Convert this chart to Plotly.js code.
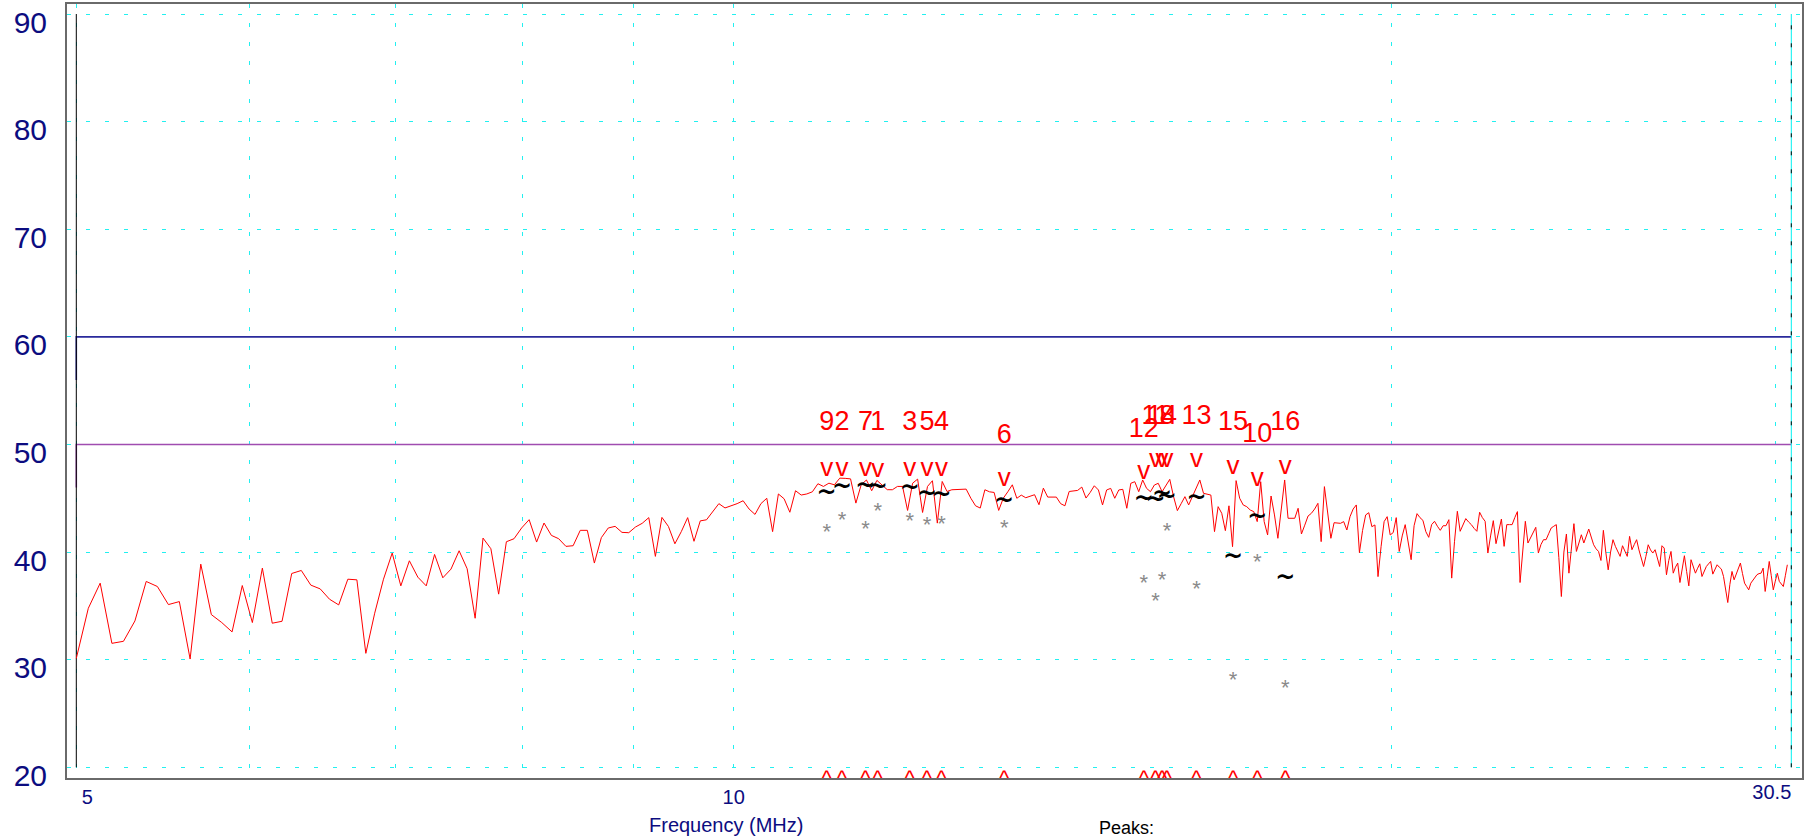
<!DOCTYPE html>
<html>
<head>
<meta charset="utf-8">
<script src="https://cdn.plot.ly/plotly-3.0.1.min.js"></script>
<style>
html,body{margin:0;padding:0;background:#fff;}
#chart{width:1807px;height:837px;}
</style>
</head>
<body>
<div id="chart"></div>
<script>
// ---- sweep (uniform frequency steps, MHz) ----
const fStart = 5.0;
const fStep = 0.06375;

const level = [
30.12,34.78,37.11,31.52,31.71,33.60,37.27,36.80,35.12,35.40,
30.06,38.88,34.19,33.45,32.58,36.89,33.45,38.51,33.39,33.57,
38.01,38.29,36.93,36.58,35.62,35.09,37.48,37.42,30.59,34.32,
37.48,39.91,36.86,39.19,37.67,36.86,39.78,37.61,38.42,40.12,
38.45,33.85,41.30,40.31,36.09,40.96,41.24,42.24,43.01,40.93,
42.70,41.55,41.24,40.53,40.59,42.02,42.02,38.98,41.34,42.24,
42.39,41.83,41.80,42.33,42.67,43.20,39.60,43.22,42.38,40.77,
41.90,43.20,41.00,42.90,43.00,43.80,44.50,44.10,44.30,44.50,
44.77,44.00,43.50,44.50,45.00,41.90,45.40,44.95,43.70,45.70,
45.30,45.40,45.60,46.35,46.10,46.40,46.25,46.87,46.85,46.80,
44.55,46.25,46.70,45.70,46.66,46.25,45.80,45.79,46.10,46.10,
43.87,46.40,46.78,43.68,46.10,46.63,42.69,46.56,45.63,45.79,
45.80,45.80,45.85,45.00,44.30,44.09,45.79,45.60,45.54,43.87,
45.00,45.60,46.25,45.00,45.29,45.05,45.20,45.33,44.40,45.94,
45.11,45.11,45.11,44.50,44.30,45.63,45.70,45.73,46.04,45.02,
45.54,46.16,45.77,44.38,45.77,45.92,45.00,45.77,45.83,44.07,
46.39,46.54,45.61,46.70,45.92,45.61,46.23,46.39,45.61,46.23,
46.76,45.15,43.85,44.50,45.15,44.38,45.15,46.00,46.70,45.46,
45.40,45.30,41.90,44.22,43.60,41.99,44.30,40.50,46.64,45.00,
44.38,44.22,43.91,43.76,42.83,46.54,42.83,41.59,45.21,43.45,
41.28,44.00,46.70,43.14,43.14,43.14,44.07,41.68,42.50,43.35,
43.60,44.00,44.53,40.97,46.08,43.50,41.28,42.73,42.70,42.67,
42.83,42.05,43.29,44.00,44.38,39.95,42.00,43.45,43.66,42.36,
42.52,37.72,40.50,42.83,43.29,41.59,41.81,43.20,40.06,41.50,
42.55,40.90,39.29,42.45,43.57,43.20,42.95,41.90,41.37,42.55,
42.86,42.40,42.02,42.45,42.45,43.01,37.58,41.00,43.79,41.93,
42.50,43.11,42.80,42.55,42.20,41.93,43.70,43.20,42.86,39.91,
41.50,42.92,40.78,42.00,43.07,40.53,42.55,42.55,42.55,43.20,
43.76,37.17,40.00,42.86,40.84,41.30,41.83,42.30,39.91,40.70,
41.15,41.15,41.70,42.24,42.40,42.55,39.50,35.87,40.00,41.68,
38.04,40.50,42.64,40.06,40.80,41.61,40.84,41.50,42.14,41.40,
40.68,40.30,40.06,39.22,42.02,40.00,38.35,40.00,41.15,40.53,
40.00,39.60,40.59,40.00,39.60,41.46,40.22,40.70,41.15,40.20,
39.44,38.66,39.60,40.68,40.20,39.91,40.22,39.30,38.66,40.59,
40.37,37.89,39.20,40.06,38.04,38.60,38.98,37.17,38.50,39.66,
38.20,36.86,39.29,38.60,38.04,38.50,38.91,37.73,38.20,38.66,
38.90,39.13,37.95,38.40,38.82,38.60,38.42,37.73,36.50,35.31,
37.00,38.20,37.42,37.90,38.50,38.98,38.00,37.11,36.80,36.49,
37.11,37.40,37.73,37.90,38.00,38.04,38.51,36.34,37.70,39.13,
37.80,36.49,37.30,38.04,37.27,37.00,36.80,37.80,38.82
];

// ---- limit lines (CISPR style, step at 5 MHz) ----
const limitFreq = [5, 5, 30.5];
const limitQP = [56, 60, 60];
const limitAV = [46, 50, 50];

// ---- sweep start / stop marker lines ----
const startStopFreq = [5, 30.5];
const markerSpan = [20, 90];

// ---- peaks ----
const peakNames = ['9','2','7','1','3','5','4','6','12','11','14','8','13','15','10','16'];
const peakFreq  = [11.03,11.21,11.49,11.64,12.04,12.26,12.45,13.30,15.41,15.60,15.71,15.79,16.29,16.93,17.37,17.89];
const peakLevel = [46.5,46.5,46.5,46.4,46.5,46.5,46.5,45.55,46.2,47.3,47.3,47.3,47.3,46.66,45.55,46.66];
const labelLevel= [52.0,52.0,52.0,52.0,52.0,52.0,52.0,50.8,51.35,52.55,52.55,52.55,52.55,52.0,50.9,52.0];
const qpLevel   = [45.37,45.93,46.02,45.93,45.84,45.33,45.21,44.63,44.87,44.75,45.28,45.03,44.96,39.48,43.14,37.47];
const avLevel   = [41.76,42.84,42.04,43.71,42.75,42.41,42.47,42.10,36.96,35.35,37.26,41.86,36.40,27.97,38.91,27.20];
const caretLevel = 19.8;

// ---- axis ticks ----
const yTicks = [20,30,40,50,60,70,80,90];
const xTickVals = [5, 10];
const xTickText = ['\u00a0\u00a0\u00a0\u00a05', '10'];
const xEndTickVals = [30.5];
const xEndTickText = ['30.5'];
const xGridVals = [6, 7, 8, 9, 20, 30];

const FONT = 'Liberation Sans, Arial, Helvetica, sans-serif';
const NAVY = '#0c0c80';
const GRID = '#22f0f0';
const XRANGE = [0.69471, 1.48920];

const freq = level.map((_, i) => fStart + i * fStep);

const traces = [
  { x: limitFreq, y: limitQP, mode: 'lines', line: {color: '#2a2a9c', width: 1.6}, hoverinfo: 'skip' },
  { x: limitFreq, y: limitAV, mode: 'lines', line: {color: '#a04cb0', width: 1.6}, hoverinfo: 'skip' },
  { x: [startStopFreq[0], startStopFreq[0]], y: markerSpan, mode: 'lines', line: {color: '#000000', width: 1}, hoverinfo: 'skip' },
  { x: [startStopFreq[1], startStopFreq[1]], y: markerSpan, mode: 'lines', line: {color: '#00f0f0', width: 1}, hoverinfo: 'skip', xaxis: 'x2' },
  { x: [startStopFreq[1], startStopFreq[1]], y: markerSpan, mode: 'lines', line: {color: '#000000', width: 1, dash: '4px,14px'}, hoverinfo: 'skip', xaxis: 'x2' },
  { x: freq, y: level, mode: 'lines', line: {color: '#ff0000', width: 1}, hoverinfo: 'skip' },
  { x: peakFreq, y: peakLevel, mode: 'text', text: peakFreq.map(() => 'v'), textposition: 'top center',
    textfont: {family: FONT, size: 26, color: '#ff0000'}, cliponaxis: false, hoverinfo: 'skip' },
  { x: peakFreq, y: labelLevel, mode: 'text', text: peakNames, textposition: 'middle center',
    textfont: {family: FONT, size: 27, color: '#ff0000'}, cliponaxis: false, hoverinfo: 'skip' },
  { x: peakFreq, y: qpLevel, mode: 'text', text: peakFreq.map(() => '~'), textposition: 'middle center',
    textfont: {family: 'DejaVu Sans, sans-serif', size: 24, color: '#000000', weight: 'bold'}, cliponaxis: false, hoverinfo: 'skip' },
  { x: peakFreq, y: avLevel, mode: 'text', text: peakFreq.map(() => '*'), textposition: 'middle center',
    textfont: {family: FONT, size: 22, color: '#8a8a8a'}, cliponaxis: false, hoverinfo: 'skip' },
  { x: peakFreq, y: peakFreq.map(() => caretLevel), mode: 'text', text: peakFreq.map(() => '^'), textposition: 'bottom center',
    textfont: {family: FONT, size: 23, color: '#ff0000'}, cliponaxis: false, hoverinfo: 'skip' }
];

const layout = {
  width: 1807, height: 837,
  margin: {l: 67, r: 5, t: 4, b: 59},
  paper_bgcolor: '#ffffff', plot_bgcolor: '#ffffff',
  showlegend: false,
  font: {family: FONT},
  xaxis: {
    type: 'log',
    range: XRANGE,
    tickmode: 'array', tickvals: xTickVals, ticktext: xTickText,
    tickfont: {family: FONT, size: 20, color: NAVY},
    ticks: '', ticklabelstandoff: 0,
    showgrid: true, gridcolor: GRID, gridwidth: 1, griddash: '4px,15px',
    minor: {tickmode: 'array', tickvals: xGridVals, showgrid: true, gridcolor: GRID, gridwidth: 1, griddash: '4px,15px', ticks: ''},
    zeroline: false,
    showline: true, linecolor: '#6a6a6a', linewidth: 2, mirror: true
  },
  xaxis2: {
    type: 'log',
    range: XRANGE,
    overlaying: 'x', anchor: 'y', side: 'bottom',
    tickmode: 'array', tickvals: xEndTickVals, ticktext: xEndTickText,
    ticklabelposition: 'outside left',
    tickfont: {family: FONT, size: 20, color: NAVY},
    ticks: '', ticklabelstandoff: 0,
    showgrid: false, zeroline: false, showline: false
  },
  yaxis: {
    range: [19.006, 90.929],
    tickmode: 'array', tickvals: yTicks, ticktext: yTicks.map(String),
    tickfont: {family: FONT, size: 30, color: NAVY},
    ticks: '', ticklabelstandoff: 12, ticklabelshift: 8, ticklabeloverflow: 'allow',
    showgrid: true, gridcolor: GRID, gridwidth: 1, griddash: '4px,15px',
    zeroline: false,
    showline: true, linecolor: '#6a6a6a', linewidth: 2, mirror: true
  },
  annotations: [
    {text: 'Frequency (MHz)', xref: 'paper', yref: 'paper', x: 0.3798, y: -0.0607, xanchor: 'center', yanchor: 'middle',
     showarrow: false, font: {family: FONT, size: 20, color: NAVY}},
    {text: 'Peaks:', xref: 'paper', yref: 'paper', x: 0.6104, y: -0.0646, xanchor: 'center', yanchor: 'middle',
     showarrow: false, font: {family: FONT, size: 18, color: '#000000'}}
  ]
};

Plotly.newPlot('chart', traces, layout, {displayModeBar: false, staticPlot: true});
</script>
</body>
</html>
